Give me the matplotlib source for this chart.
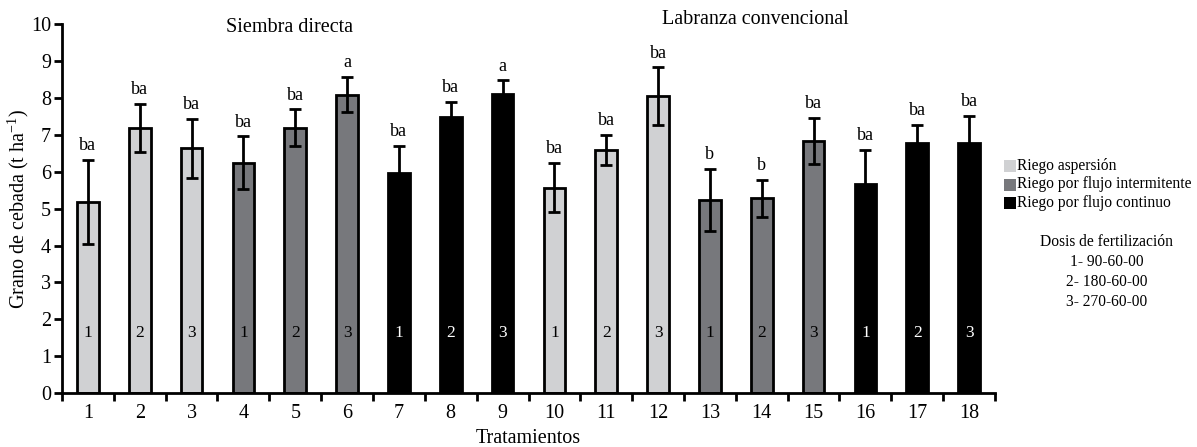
import matplotlib
matplotlib.use("Agg")
import matplotlib.pyplot as plt
from matplotlib.patches import Rectangle

treatments = [str(i) for i in range(1, 19)]
yields = [5.19, 7.19, 6.64, 6.25, 7.19, 8.09, 5.97, 7.48, 8.10,
          5.57, 6.59, 8.05, 5.24, 5.28, 6.84, 5.68, 6.79, 6.77]
errors = [1.14, 0.65, 0.80, 0.71, 0.50, 0.48, 0.73, 0.42, 0.38,
          0.67, 0.41, 0.78, 0.84, 0.51, 0.62, 0.91, 0.48, 0.75]
letters = ["ba", "ba", "ba", "ba", "ba", "a", "ba", "ba", "a",
           "ba", "ba", "ba", "b", "b", "ba", "ba", "ba", "ba"]
irrigation = [0, 0, 0, 1, 1, 1, 2, 2, 2, 0, 0, 0, 1, 1, 1, 2, 2, 2]
doses = ["1", "2", "3"] * 6
irrigation_names = ["Riego aspersión", "Riego por flujo intermitente", "Riego por flujo continuo"]
dose_title = "Dosis de fertilización"
dose_names = ["1- 90-60-00", "2- 180-60-00", "3- 270-60-00"]
yticks = list(range(0, 11))

colors = ["#d0d1d3", "#77787c", "#000000"]
textcolors = ["black", "black", "white"]

plt.rcParams['font.family'] = ['Liberation Serif', 'DejaVu Serif']
plt.rcParams['mathtext.fontset'] = 'custom'
plt.rcParams['mathtext.rm'] = 'Liberation Serif'
plt.rcParams['mathtext.it'] = 'Liberation Serif:italic'

fig = plt.figure(figsize=(11.97, 4.47), dpi=100)
ax = fig.add_axes([62/1197, 1-393/447, (995-62)/1197, (393-24.3)/447])

x = list(range(len(treatments)))
ax.bar(x, yields, width=0.42, color=[colors[i] for i in irrigation],
       edgecolor="black", linewidth=2, zorder=2)
ax.errorbar(x, yields, yerr=errors, fmt="none", ecolor="black",
            elinewidth=2, capsize=4, capthick=2, zorder=3)

for xi, y, e, l, irr, d in zip(x, yields, errors, letters, irrigation, doses):
    ax.text(xi, y + e + 0.15, l, ha="center", va="bottom", fontsize=13)
    ax.text(xi, 1.63, d, ha="center", va="center", fontsize=12.5,
            color=textcolors[irr], zorder=4)

ax.set_xlim(-0.5, len(treatments) - 0.5)
ax.set_ylim(0, 10)
ax.set_yticks(yticks)
ax.set_yticklabels([str(t) for t in yticks], fontsize=14.5)
ax.set_xticks([i - 0.5 for i in range(len(treatments) + 1)])
ax.set_xticklabels([])
ax.set_xticks(x, minor=True)
ax.set_xticklabels(treatments, minor=True, fontsize=14.5)
ax.tick_params(axis="x", which="major", direction="out", length=6, width=2)
ax.tick_params(axis="x", which="minor", length=0, pad=8)
ax.tick_params(axis="y", direction="out", length=6, width=2, pad=2)
for s in ["top", "right"]:
    ax.spines[s].set_visible(False)
for s in ["left", "bottom"]:
    ax.spines[s].set_linewidth(2)

ax.set_ylabel(r"Grano de cebada (t ha$^{\mathrm{-1}}$)", fontsize=14.5, labelpad=-0.5)
ax.set_xlabel("Tratamientos", fontsize=14.5, labelpad=4.5)

fig.text(290/1197, 1-27/447, "Siembra directa", ha="center", va="center", fontsize=14.5)
fig.text(755/1197, 1-20/447, "Labranza convencional", ha="center", va="center", fontsize=14.5)

# legend
for i, (name, c) in enumerate(zip(irrigation_names, colors)):
    yy = 166 + i * 18.5
    fig.patches.append(Rectangle((1004/1197, 1-(yy+6)/447), 12/1197, 12/447,
                                 transform=fig.transFigure, facecolor=c,
                                 edgecolor="none"))
    fig.text(1017/1197, 1-yy/447, name, ha="left", va="center", fontsize=11.2)

fig.text(1107/1197, 1-242/447, dose_title, ha="center", va="center", fontsize=11.2)
for i, d in enumerate(dose_names):
    fig.text(1107/1197, 1-(262+i*20)/447, d, ha="center", va="center", fontsize=11.2)

fig.savefig("out.png", dpi=100)
